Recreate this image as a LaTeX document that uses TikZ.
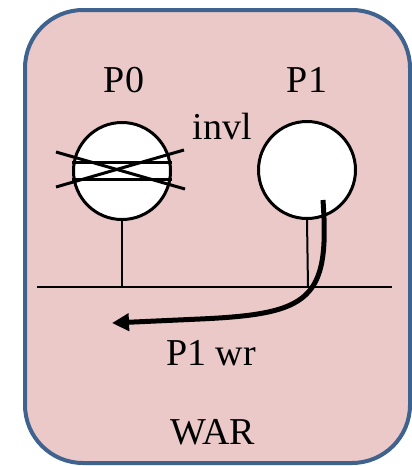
\documentclass[tikz,border=0pt]{standalone}
\usepackage{fontspec}
\setmainfont{Liberation Serif}
\usetikzlibrary{arrows.meta}
\begin{document}
\begin{tikzpicture}[x=1pt,y=-1pt,
  lbl/.style={inner sep=0pt,font=\fontsize{38}{42}\selectfont},
  proc/.style={circle,draw=black,fill=white,line width=3pt,minimum size=97pt,inner sep=0pt},
  wire/.style={line width=2pt},
  mark line/.style={line width=3pt}]
\useasboundingbox (0,0) rectangle (412,466);
\draw[line width=4pt,draw={rgb,255:red,63;green,98;blue,142},fill={rgb,255:red,235;green,201;blue,201},rounded corners=58pt] (25,10) rectangle (410,463);
% bus
\coordinate (busL) at (37,287);
\coordinate (busR) at (392,287);
\draw[wire] (busL) -- (busR);
% processors
\node[proc] (p0) at (122,171) {};
\node[proc] (p1) at (307,170) {};
\coordinate (s0) at (122,287);
\coordinate (s1) at (308,287);
\draw[wire] (p0.south) -- (s0);
\draw[wire] (p1.south) -- (s1);
% invalidated cache line in P0
\draw[mark line] ([yshift=-8.5pt]p0.west) -- ([yshift=-8.5pt]p0.east);
\draw[mark line] ([yshift=8.5pt]p0.west) -- ([yshift=8.5pt]p0.east);
\coordinate (x1a) at (56,152);
\coordinate (x1b) at (185,189);
\coordinate (x2a) at (56,187);
\coordinate (x2b) at (184,150);
\draw[mark line] (x1a) -- (x1b);
\draw[mark line] (x2a) -- (x2b);
% labels
\node[lbl] (t0) at (124,80) {P0};
\node[lbl] (t1) at (307,80) {P1};
\node[lbl] (inv) at (222,127) {invl};
\node[lbl] (wr) at (211,353) {P1 wr};
\node[lbl] (war) at (213,432) {WAR};
% write arrow
\coordinate (as) at (323,200);
\coordinate (ae) at (112,323);
\draw[line width=5pt,-{Triangle[length=17pt,width=17pt]}] (as) .. controls (330,300) and (310,314) .. (200,319) -- (ae);
\end{tikzpicture}
\end{document}
